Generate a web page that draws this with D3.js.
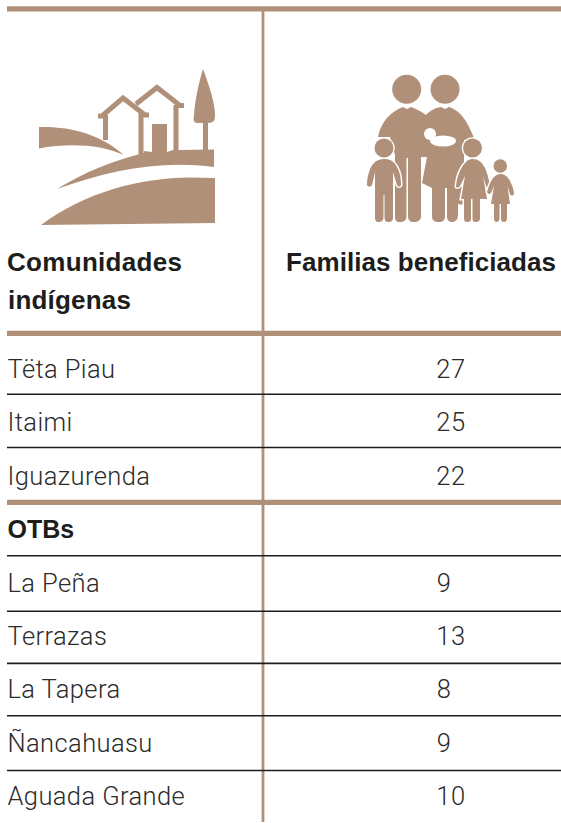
<!DOCTYPE html>
<html><head><meta charset="utf-8">
<style>html,body{margin:0;padding:0;background:#fff}svg{display:block}</style>
<script src="https://cdn.jsdelivr.net/npm/d3@7"></script></head>
<body><svg id="c" width="561" height="823"></svg>
<script>
const communities = ["Tëta Piau","Itaimi","Iguazurenda","OTBs","La Peña","Terrazas","La Tapera","Ñancahuasu","Aguada Grande"];
const families = [27,25,22,null,9,13,8,9,10];
const headerCol1 = ["Comunidades","indígenas"];
const headerCol2 = "Familias beneficiadas";
const rowBaselines = [378,431,485,538,592,645,698,752,805];
const ruleYs = [394.3,447.5,502.3,555.8,611.3,663.4,715.8,770.5];
const thickRules = [502.3];
const TAN="#b09079", INK="#1d1d1b";
const BOLD="'Liberation Sans',Arial,sans-serif", LIGHT="Roboto,'Liberation Sans',sans-serif";
const svg=d3.select("#c");

svg.append("line").attr("x1",263).attr("x2",263).attr("y1",9).attr("y2",822).attr("stroke",TAN).attr("stroke-width",2.8);
svg.selectAll("line.r").data(ruleYs).join("line").attr("class","r")
  .attr("x1",7).attr("x2",561).attr("y1",d=>d).attr("y2",d=>d)
  .attr("stroke",d=>thickRules.includes(d)?TAN:INK)
  .attr("stroke-width",d=>thickRules.includes(d)?5.2:1.6);
[8.8,333.3].forEach(y=>svg.append("line").attr("x1",7).attr("x2",561).attr("y1",y).attr("y2",y).attr("stroke",TAN).attr("stroke-width",5.2));

const th=svg.append("g").attr("font-family",BOLD).attr("font-weight",700).attr("font-size",26).attr("fill",INK);
th.append("text").attr("x",7).attr("y",271).attr("textLength",175).text(headerCol1[0]);
th.append("text").attr("x",8).attr("y",309).attr("textLength",123).text(headerCol1[1]);
th.append("text").attr("x",286).attr("y",271).attr("textLength",270).text(headerCol2);

svg.selectAll("text.n").data(communities).join("text").attr("class","n")
  .attr("x",7.5).attr("y",(d,i)=>rowBaselines[i])
  .attr("fill",d=>d==="OTBs"?INK:"#2b2b2b")
  .attr("font-family",d=>d==="OTBs"?BOLD:LIGHT)
  .attr("font-size",d=>d==="OTBs"?25:25.5)
  .attr("font-weight",d=>d==="OTBs"?700:300)
  .attr("letter-spacing",d=>d==="OTBs"?0:0.4).text(d=>d);
svg.selectAll("text.v").data(families).join("text").attr("class","v")
  .attr("x",d=>d!==null&&d<10?444:451).attr("y",(d,i)=>rowBaselines[i]).attr("text-anchor","middle")
  .attr("font-family",LIGHT).attr("font-weight",300).attr("font-size",25.5).attr("letter-spacing",0.6).attr("fill","#2b2b2b").text(d=>d===null?"":d);

// Landscape icon
const a=svg.append("g").attr("fill",TAN);
a.append("path").attr("d","M39 127C70 126 100 134 124 155C100 144 68 143 39 148.5Z");
a.append("path").attr("d","M57 189C85 172 110 162 138 154.5L144 153V151L152 152H167L173 150L179 150L214 149.5V167C160 160 110 170 57 189Z");
a.append("path").attr("d","M41 225C85 192 140 178 190 177.5L215 178V223Z");
a.append("path").attr("d","M203 69C209 85 215 103 215 115C215 120 214 123 208 123V150H203V123H197C194 123 193 120 194 115C195 100 199 82 203 69Z");
a.append("rect").attr("x",152).attr("y",124).attr("width",15).attr("height",28);
a.append("path").attr("fill","none").attr("stroke",TAN).attr("stroke-width",5)
 .attr("d","M98 116H102L123 98L145 115H149M105.500 115V140M141 112V155M136 104L157 87.500L180 105.500H184M176 105V150");
// Family icon
const f=svg.append("g").attr("fill",TAN);
[[406.7,89.3,14.5],[445,89.3,14.5]].forEach(c=>f.append("circle").attr("cx",c[0]).attr("cy",c[1]).attr("r",c[2]));
// adults
f.append("path").attr("d","M378 137C381 122 390 112 403 107L407 109L411 107C417 109 422 112 426 115C430 111 434 108 441 107L445 109L449 107C458 110 466 117 474 138L464 140V205L458 204V215C458 220 455 222 452 222C449 222 447 220 447 216V188H445V216C445 220 443 222 439 222C434 222 432 220 432 216V188L422 183L427 157H421V216C421 220 418 222 414 222C410 222 408 220 408 216V158H406.500V216C406.500 220 404 222 400 222C396 222 395 220 395 216V155L390 137Z");
// baby
f.append("circle").attr("cx",430).attr("cy",134).attr("r",6).attr("fill","#fff");
f.append("ellipse").attr("cx",443).attr("cy",141).attr("rx",13).attr("ry",5.5).attr("fill","#fff");
// children, each with a white halo
const kids=[
 "M384 159C390 159 394 161 397 167C400 172 401 178 401 185C400 187 398 187 397 185L393 172V217C393 221 391 222 388.500 222C386 222 384.500 221 384.500 217V195H383.500V217C383.500 221 381 222 379 222C376 222 375 221 375 217V172L372 185C371 187 368 187 367 185C367 176 370 167 374 163C377 160 380 159 384 159Z",
 "M472.500 159C478 159 482 162 485 168C487 173 489 179 490 186C489 189 487 188 486 186L483 176L487 199H480V218C480 221 478 222 476 222C473 222 472.500 221 472.500 218V199H471V218C471 221 470 222 467.500 222C465 222 464 221 464 218V199H461L465 176L460 186C458 188 456 188 456 186C457 176 461 167 465 163C467 160 470 159 472.500 159Z",
 "M500.500 174C505 174 508 177 510 181C512 185 514 190 514 194C513 196 511 196 510 194L507.500 186L510 204H507V218C507 221 505.500 222 504 222C502 222 501 221 501 218V204H499.500V218C499.500 221 498 222 496.500 222C495 222 494 221 494 218V204H491L494 186L491 193C489 195 488 194 487 192C489 185 491 180 494 177C496 175 498 174 500.500 174Z"];
kids.forEach(d=>f.append("path").attr("d",d).attr("stroke","#fff").attr("stroke-width",3).attr("paint-order","stroke"));
[[384,148,9.5],[472.500,148,9.5],[500.300,166,6.8]].forEach(c=>f.append("circle").attr("cx",c[0]).attr("cy",c[1]).attr("r",c[2]).attr("stroke","#fff").attr("stroke-width",2.5).attr("paint-order","stroke"));
</script></body></html>
